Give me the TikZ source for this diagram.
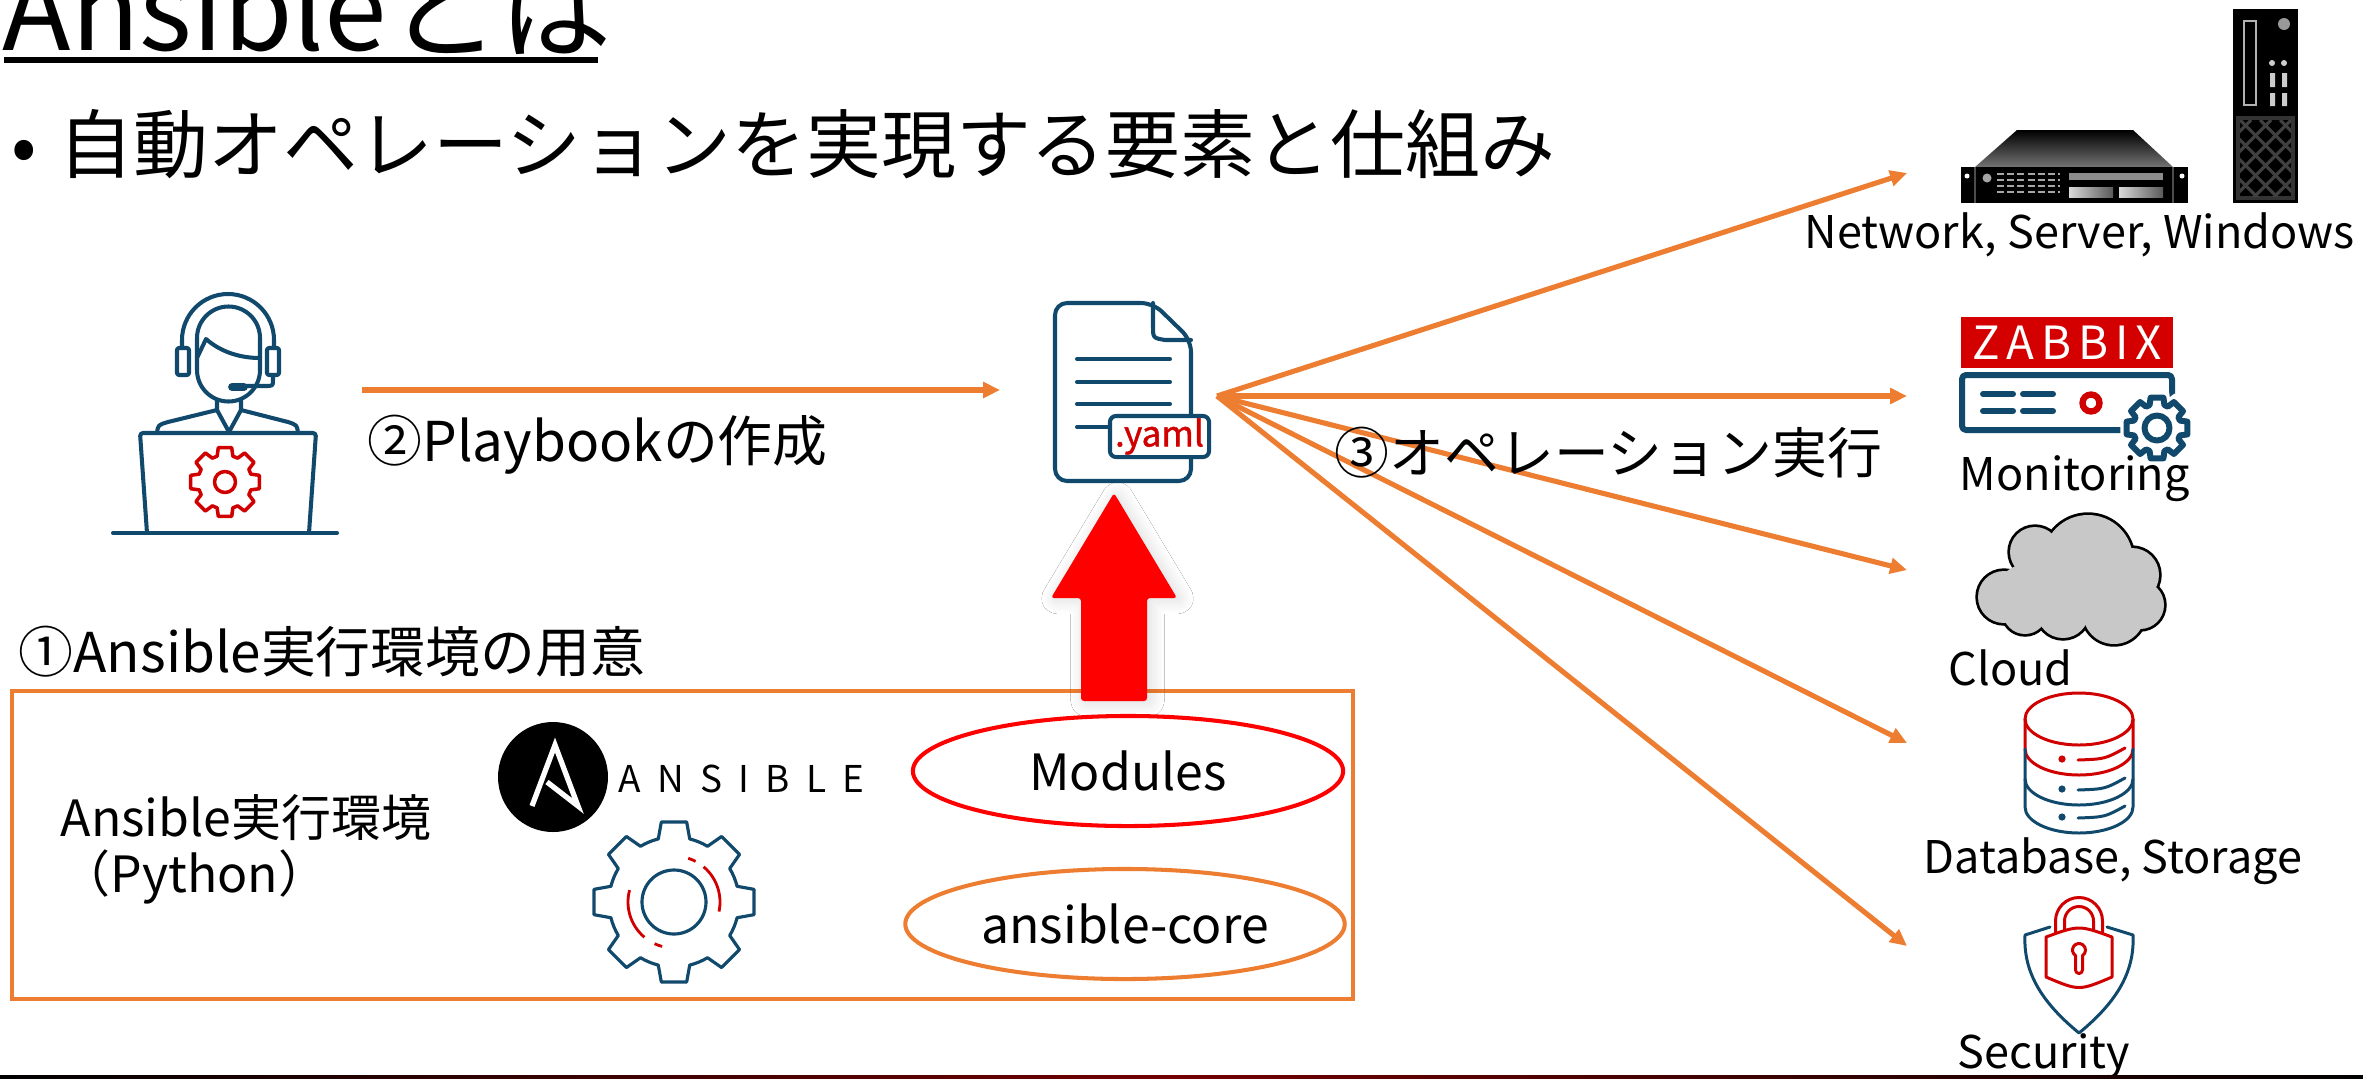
\documentclass[tikz,border=0pt]{standalone}
\usepackage{fontspec}
\setmainfont{Noto Sans CJK JP}
\usetikzlibrary{arrows.meta,shapes.geometric,shadows.blur,positioning}

\definecolor{ansorange}{RGB}{237,125,49}
\definecolor{iconblue}{RGB}{17,73,108}
\definecolor{iconred}{RGB}{208,0,0}
\definecolor{zbxred}{RGB}{212,0,0}
\definecolor{cloudgray}{RGB}{200,200,200}

\newcommand{\fsz}[1]{\fontsize{#1pt}{#1pt}\selectfont}
% cog outline around the current origin:
% #1 teeth, #2 tip radius, #3 root radius, #4 tip half angle, #5 root half angle
\newcommand{\cogpath}[5]{%
  (-90-#5:#3) \foreach \cogi in {1,...,#1}{
    -- ({(\cogi-1)*360/#1-90-#5}:#3) -- ({(\cogi-1)*360/#1-90-#4}:#2)
    -- ({(\cogi-1)*360/#1-90+#4}:#2) -- ({(\cogi-1)*360/#1-90+#5}:#3)
    arc[start angle={(\cogi-1)*360/#1-90+#5}, end angle={\cogi*360/#1-90-#5}, radius=#3]
  } -- cycle}

\tikzset{
  flow/.style={draw=ansorange, line width=1.45pt, -{Triangle[length=4.8pt,width=4.4pt]}},
  icon/.style={draw=iconblue, line width=1.15pt, line cap=round, line join=round},
  redicon/.style={draw=iconred, line width=1pt, line cap=round, line join=round},
  steplbl/.style={font=\fsz{15.6}, anchor=base west, inner sep=0pt},
  envlbl/.style={font=\fsz{14.2}, anchor=base west, inner sep=0pt},
  tgtlbl/.style={font=\fsz{12.8}, anchor=base west, inner sep=0pt},
  layer/.style={ellipse, minimum width=4.3cm, minimum height=1.1cm, line width=1.15pt, font=\fsz{14.2}},
}

\begin{document}
\begin{tikzpicture}[x=0.01cm, y=-0.01cm]
\useasboundingbox (0,0) rectangle (2363,1078);
\fill[white] (0,0) rectangle (2363,1078);

% heading
\node[anchor=base west, inner sep=0pt, font=\fsz{32}] (title) at (2,50) {Ansibleとは};
\draw[line width=1.6pt] (4,60) -- (598,60);
\node[anchor=base, inner sep=0pt, font=\fsz{21.3}] (bullet) at (24,172) {•};
\node[anchor=base west, inner sep=0pt, font=\fsz{21.3}] (lead) at (58,172) {自動オペレーションを実現する要素と仕組み};

% operator at the laptop
\draw[icon] (182,348) -- (182,340) arc[start angle=180, end angle=360, radius=46] -- (274,348);
\draw[icon, rounded corners=0.2mm] (177,348) rectangle (189,375);
\draw[icon, rounded corners=0.2mm] (267,348) rectangle (279,375);
\draw[icon] (197,370) -- (197,338) arc[start angle=180, end angle=360, radius=31.5]
  -- (260,370) arc[start angle=0, end angle=180, radius=31.5] -- cycle;
\draw[icon] (197,358) -- (206,339) .. controls (222,353) and (242,358) .. (260,358);
\draw[icon] (273,375) -- (273,380) .. controls (273,386) .. (265,386) -- (246,386);
\draw[icon, line width=2.2pt] (232,387) -- (244,387);
\draw[icon] (157,433) .. controls (158,425) .. (168,422) -- (217,410) -- (217,400);
\draw[icon] (298,433) .. controls (297,425) .. (288,422) -- (241,410) -- (241,400);
\draw[icon] (217,410) -- (229,432) -- (241,410);
\draw[icon, rounded corners=0.3mm] (147,533) -- (140,433) -- (316,433) -- (309,533);
\draw[icon] (113,533) -- (337,533);
\draw[redicon, shift={(225,482)}] \cogpath{8}{35}{27}{11}{17};
\draw[redicon] (225,482) circle (10.5);

% step 2
\coordinate (playStart) at (362,390);
\coordinate (playEnd) at (1000,390);
\draw[flow] (playStart) -- (playEnd);
\node[steplbl] (stepTwo) at (367,461) {②Playbookの作成};

% playbook file
\draw[icon, rounded corners=1.2mm] (1191,340) -- (1153,303) -- (1055,303) -- (1055,481) -- (1191,481) -- cycle;
\draw[icon] (1153,303) -- (1153,326) .. controls (1153,338) .. (1165,340) -- (1191,340);
\foreach \ly in {359,382,404} \draw[icon] (1077,\ly) -- (1170,\ly);
\draw[icon] (1077,427) -- (1110,427);
\node[draw=iconblue, line width=1.15pt, fill=white, rounded corners=0.6mm, minimum width=0.99cm,
  minimum height=0.41cm, inner sep=0pt, text=iconred, font=\fsz{10}\addfontfeature{FakeBold=1.2}] (yamlTag) at (1159.5,436.5) {.yaml};

% step 3
\coordinate (hub) at (1217,396);
\coordinate (tNet) at (1907,173);
\coordinate (tMon) at (1907,396);
\coordinate (tCloud) at (1907,570);
\coordinate (tDb) at (1907,743);
\coordinate (tSec) at (1907,946);
\foreach \t in {tNet,tMon,tCloud,tDb,tSec} \draw[flow] (hub) -- (\t);
\node[steplbl] (stepThree) at (1334,473) {③オペレーション実行};

% step 1: execution environment
\node[steplbl] (stepOne) at (18,672) {①Ansible実行環境の用意};
\draw[ansorange, line width=1.15pt] (12,691) rectangle (1353,999);
\node[envlbl] (envName) at (60,836) {Ansible実行環境};
\node[envlbl] (envLang) at (60,892) {（Python）};

\fill[black] (553,777) circle (55);
\draw[white, line width=1.5pt, line join=miter] (532,806) -- (555,745) -- (578,806) -- (547,782);
\node[anchor=base west, inner sep=0pt, font=\fsz{10.5}\addfontfeature{LetterSpace=44}] (brand) at (618,792) {ANSIBLE};

\draw[icon, line width=0.9pt, shift={(674,902)}] \cogpath{8}{81}{65}{9}{14};
\draw[icon, line width=0.9pt] (674,902) circle (32);
\foreach \a/\b in {105/115,130/195,-50/12,-72/-62}
  \draw[iconred, line width=0.8pt] ([shift={(\a:46)}]674,902) arc[start angle=\a, end angle=\b, radius=46];

\node[layer, draw=red] (modules) at (1128,771) {Modules};
\node[layer, draw=ansorange] (core) at (1125,924) {ansible-core};

\fill[red, rounded corners=0.3mm, blur shadow={shadow xshift=1pt, shadow yshift=-0.5pt, shadow blur radius=4pt, shadow blur steps=12, shadow opacity=15}]
  (1114,493) -- (1177,598) -- (1147,598) -- (1147,701) -- (1081,701) -- (1081,598) -- (1051,598) -- cycle;

% network, server, windows
\shade[top color=black, bottom color=black!55] (2017,130) -- (2133,130) -- (2173,167) -- (1975,167) -- cycle;
\fill[black] (1961,167) rectangle (2188,203);
\draw[black!70, line width=0.6pt] (1975,167) -- (1975,203) (2173,167) -- (2173,203);
\fill[white] (1967,176) circle (2.5) (2182,176) circle (2.5);
\fill[black!35] (1987,178) circle (4.5);
\foreach \gy in {174,180,186,192}
  \draw[black!35, line width=0.6pt, dash pattern=on 2pt off 0.9pt] (1997,\gy) -- (2060,\gy);
\fill[black!45] (2069,173) rectangle (2163,180);
\shade[left color=black!15, right color=black!65] (2069,187) rectangle (2113,197);
\shade[left color=black!15, right color=black!65] (2119,187) rectangle (2163,197);
\fill[black] (2233,9) rectangle (2298,203);
\draw[black!30, line width=0.7pt] (2244,21) rectangle (2256,105);
\fill[black!40] (2284,24) circle (6);
\fill[black!20] (2272,63) circle (3) (2284,63) circle (3);
\fill[black!20] (2270,73) rectangle (2275,87) (2282,73) rectangle (2287,87)
  (2270,93) rectangle (2275,106) (2282,93) rectangle (2287,106);
\fill[black!80] (2236,116) rectangle (2295,200);
\begin{scope}
  \clip (2240,120) rectangle (2291,196);
  \fill[black] (2240,120) rectangle (2291,196);
  \foreach \d in {-80,-60,...,60} {
    \draw[black!75, line width=0.9pt] (2240+\d,120) -- ++(80,80);
    \draw[black!75, line width=0.9pt] (2291-\d,120) -- ++(-80,80);
  }
\end{scope}
\node[tgtlbl] (lblNet) at (1804,248) {Network, Server, Windows};

% monitoring
\node[fill=zbxred, minimum width=2.12cm, minimum height=0.51cm, inner sep=0pt, text=white,
  font=\fsz{13}\addfontfeature{LetterSpace=15}] (zabbix) at (2067,342.5) {ZABBIX};
\draw[icon, line width=1.7pt, rounded corners=0.4mm] (1962,375) rectangle (2172,430);
\foreach \ry in {394,411} {
  \draw[icon, line width=1.7pt] (1983,\ry) -- (2013,\ry);
  \draw[icon, line width=1.7pt] (2023,\ry) -- (2053,\ry);
}
\draw[iconred, line width=1.8pt] (2091,403) circle (8.5);
\draw[white, line width=3.6pt, fill=white, shift={(2157,428)}] \cogpath{8}{31}{24}{12}{18};
\draw[icon, line width=1.7pt, fill=white, shift={(2157,428)}] \cogpath{8}{31}{24}{12}{18};
\draw[icon, line width=1.7pt] (2157,428) circle (12.5);
\node[tgtlbl] (lblMon) at (1959,490) {Monitoring};

% cloud
\foreach \cx/\cy/\r in {2088/560/45,2035/552/25,2004/597/26,2025/612/22,2063/612/26,2114/613/31,2132/575/27,2140/605/24}
  \draw[black, line width=1.55pt] (\cx,\cy) circle (\r);
\foreach \cx/\cy/\r in {2088/560/45,2035/552/25,2004/597/26,2025/612/22,2063/612/26,2114/613/31,2132/575/27,2140/605/24}
  \fill[cloudgray] (\cx,\cy) circle (\r);
\fill[cloudgray] (2070,590) ellipse (75 and 35);
\node[tgtlbl] (lblCloud) at (1948,685) {Cloud};

% database, storage
\draw[redicon, line width=0.85pt] (2079,719) ellipse (54 and 26);
\draw[redicon, line width=0.85pt] (2025,719) -- (2025,749)
  arc[start angle=180, end angle=0, x radius=54, y radius=26] -- (2133,719);
\draw[icon, line width=0.85pt] (2025,749) -- (2025,807)
  arc[start angle=180, end angle=0, x radius=54, y radius=26] -- (2133,749);
\draw[icon, line width=0.85pt] (2025,779) arc[start angle=180, end angle=0, x radius=54, y radius=26];
\foreach \ry/\rc in {749/iconred,779/iconblue,807/iconblue} {
  \fill[\rc] (2062,\ry+10) circle (3.6);
  \draw[\rc, line width=0.85pt, line cap=round] (2078,\ry+11) .. controls (2105,\ry+10) .. (2125,\ry-1);
}
\node[tgtlbl] (lblDb) at (1923,873) {Database, Storage};

% security
\draw[icon, line width=0.85pt] (2050,927) -- (2025,935) .. controls (2023,975) and (2045,1005) .. (2079,1033)
  .. controls (2113,1005) and (2135,975) .. (2133,935) -- (2107,927);
\draw[redicon, line width=0.85pt] (2055.5,935) -- (2055.5,921) arc[start angle=180, end angle=360, radius=23.5]
  -- (2102.5,935) -- (2093.5,935) -- (2093.5,921) arc[start angle=360, end angle=180, radius=14.5] -- (2064.5,935) -- cycle;
\draw[redicon, line width=0.85pt, fill=white] (2046,937) .. controls (2079,925) .. (2112,937) -- (2112,977)
  .. controls (2079,991) .. (2046,977) -- cycle;
\draw[redicon, line width=0.85pt] (2082.5,955.5) -- (2082.5,970) arc[start angle=0, end angle=180, radius=3.5]
  -- (2075.5,955.5) arc[start angle=122.6, end angle=417.4, radius=6.5];
\node[tgtlbl] (lblSec) at (1957,1068) {Security};

% footer rule
\shade[left color=black, right color=black, middle color=red!45!black] (0,1075) rectangle (2363,1078);
\end{tikzpicture}
\end{document}
